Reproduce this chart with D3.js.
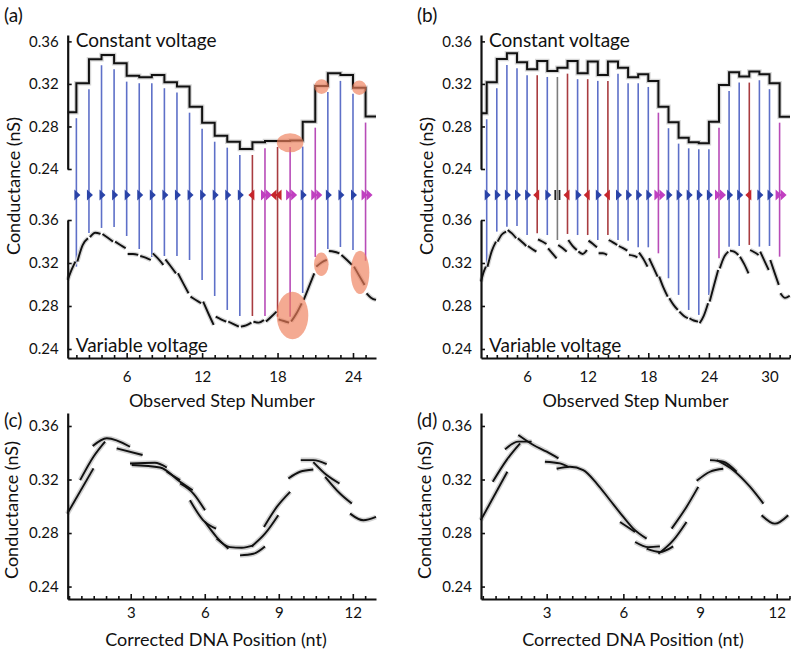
<!DOCTYPE html>
<html><head><meta charset="utf-8">
<script src="https://cdn.jsdelivr.net/npm/d3@7"></script>
<style>
body{margin:0;background:#fff}
svg{display:block}
text{font-family:Lato,"Open Sans",sans-serif;fill:#111}
</style>
</head><body>
<svg id="c" width="800" height="656"></svg>
<script>
// ---------------- DATA ----------------
// Panel (a): constant-voltage step levels (nS), one per observed step level
const levelsA = [0.2934,0.3207,0.3432,0.3473,0.3395,0.3278,0.3263,0.3285,0.3216,0.3175,0.2986,0.2836,0.2713,0.2657,0.2588,0.2651,0.2664,0.2664,0.2667,0.2845,0.3181,0.3301,0.3285,0.3165,0.2893];
// transition types at steps 2..25 (f forward, b back, ff skip, bb double back, p pause)
const typesA = ["f","f","f","f","f","f","f","f","f","f","f","f","f","f","b","ff","bb","ff","f","ff","f","f","f","ff"];
// where each transition line ends in the variable-voltage panel (nS)
const endsA = [0.3166,0.3479,0.3526,0.3535,0.3451,0.333,0.3256,0.3265,0.3265,0.3228,0.3042,0.2893,0.2763,0.2707,0.2707,0.2707,0.27,0.27,0.2921,0.3256,0.333,0.3349,0.3321,0.3221];
// variable-voltage piece per level: start, middle, end conductance (nS)
const pieceStartA = [0.3042,0.3213,0.344,0.347,0.3399,0.3284,0.3265,0.329,0.3234,0.3104,0.2887,0.2841,0.2701,0.2655,0.2608,0.2655,0.2655,0.2676,0.2655,0.2856,0.3166,0.3312,0.3275,0.3166,0.2918];
const pieceMidA   = [0.3135,0.3367,0.3482,0.3435,0.3368,0.3284,0.325,0.324,0.317,0.301,0.2856,0.273,0.2676,0.2632,0.262,0.2645,0.27,0.266,0.273,0.298,0.3205,0.3305,0.323,0.308,0.2875];
const pieceEndA   = [0.3213,0.343,0.347,0.3399,0.3337,0.3275,0.3228,0.3182,0.3104,0.2918,0.2825,0.2624,0.2655,0.2608,0.2645,0.267,0.2748,0.2645,0.2825,0.3104,0.3228,0.329,0.3182,0.2996,0.2856];
// highlighted regions in (a): [step, conductance]
const highlightTopA = [[21.5,0.3175],[24.5,0.3164],[19.0,0.2647]];
const highlightBotA = [[21.48,0.3188],[19.19,0.2712],[24.56,0.3113]];

// Panel (b)
const levelsB = [0.2924,0.3216,0.3435,0.3489,0.3404,0.3338,0.3416,0.3322,0.3353,0.3416,0.3301,0.341,0.3285,0.341,0.3353,0.3263,0.3291,0.3228,0.2986,0.284,0.2695,0.2651,0.2642,0.2845,0.3191,0.331,0.3269,0.3316,0.3291,0.3207,0.2892];
const typesB = ["f","f","f","f","f","b","f","p","b","f","b","f","b","f","f","f","f","ff","f","f","f","f","f","ff","f","f","b","f","f","ff"];
const endsB = [0.3166,0.3492,0.3538,0.3544,0.346,0.3476,0.346,0.3414,0.347,0.346,0.346,0.3414,0.346,0.3414,0.3408,0.3346,0.3346,0.329,0.3058,0.2903,0.2763,0.2717,0.2903,0.3244,0.3352,0.3358,0.3368,0.3352,0.3358,0.3259];
const pieceStartB = [0.3027,0.3166,0.3399,0.3507,0.343,0.3358,0.342,0.3337,0.3368,0.3414,0.3306,0.3408,0.329,0.3414,0.3358,0.3275,0.3296,0.3244,0.3073,0.2872,0.2748,0.2686,0.2639,0.2841,0.315,0.3315,0.3259,0.3321,0.3306,0.3228,0.2918];
const pieceMidB   = [0.311,0.331,0.3465,0.3475,0.3395,0.333,0.34,0.329,0.334,0.336,0.3284,0.3378,0.329,0.3392,0.3338,0.3268,0.324,0.316,0.297,0.281,0.271,0.2665,0.271,0.299,0.3255,0.3305,0.319,0.33,0.322,0.311,0.2875];
const pieceEndB   = [0.3166,0.3399,0.3492,0.343,0.3358,0.3306,0.3377,0.3244,0.3306,0.3321,0.3321,0.3346,0.3275,0.3368,0.3315,0.3253,0.3166,0.3073,0.2887,0.2763,0.2686,0.2655,0.2825,0.3135,0.3306,0.3275,0.3104,0.3275,0.3135,0.2996,0.2895];

// Panel (c): corrected segments, [DNA position (nt), conductance (nS)]
const segmentsC = [
 [[0.43,0.2945],[1.49,0.3283]],
 [[0.95,0.3195],[1.49,0.337],[1.96,0.3483]],
 [[1.46,0.345],[2.03,0.3508],[2.97,0.3445]],
 [[2.43,0.3433],[3.48,0.3383]],
 [[2.97,0.332],[3.98,0.3325],[4.46,0.329]],
 [[3.04,0.3308],[4.19,0.329],[5.0,0.3183],[5.51,0.312]],
 [[4.46,0.3258],[5.0,0.3195]],
 [[5.0,0.317],[5.54,0.3095],[6.01,0.297]],
 [[5.40,0.3045],[5.94,0.2895],[6.46,0.2833]],
 [[6.01,0.2883],[6.48,0.277],[6.96,0.2683]],
 [[6.48,0.2758],[7.02,0.2695],[7.50,0.269],[7.97,0.2708]],
 [[7.43,0.2633],[7.97,0.2645],[8.44,0.27]],
 [[7.90,0.27],[8.44,0.2795],[8.98,0.2933]],
 [[8.40,0.2845],[8.92,0.2995],[9.46,0.3108]],
 [[9.39,0.3208],[9.86,0.3258],[10.40,0.3275]],
 [[9.89,0.3345],[10.40,0.3345],[10.94,0.3315]],
 [[10.40,0.333],[10.94,0.3233],[11.46,0.317]],
 [[10.88,0.322],[11.48,0.3095],[11.96,0.302]],
 [[11.89,0.2945],[12.43,0.2895],[12.94,0.292]]
];
// Panel (d)
const segmentsD = [
 [[0.42,0.2895],[1.46,0.3258]],
 [[0.89,0.3183],[1.43,0.3345],[1.96,0.347]],
 [[1.37,0.3425],[1.89,0.3483],[2.41,0.3483]],
 [[1.89,0.3533],[2.48,0.3458],[3.0,0.3408],[3.46,0.3358]],
 [[2.93,0.3333],[3.52,0.332],[3.85,0.3295]],
 [[3.39,0.328],[3.91,0.3295],[4.43,0.327],[4.96,0.317],[5.48,0.3045],[6.0,0.292],[6.39,0.2833],[6.91,0.2758]],
 [[5.87,0.2883],[6.46,0.2808]],
 [[6.46,0.2733],[6.98,0.2695],[7.43,0.27]],
 [[6.91,0.2683],[7.43,0.2658],[7.95,0.27]],
 [[7.37,0.2645],[7.95,0.2745],[8.47,0.2883]],
 [[7.89,0.2833],[8.47,0.2995],[8.93,0.3145]],
 [[8.87,0.319],[9.39,0.3258],[9.91,0.328]],
 [[9.39,0.3345],[9.91,0.3333],[10.43,0.3258]],
 [[9.65,0.3345],[10.30,0.327],[10.96,0.3145],[11.48,0.302]],
 [[11.41,0.2933],[11.93,0.287],[12.45,0.2933]]
];
const yTicks = [0.24,0.28,0.32,0.36];

// ---------------- DRAWING ----------------
const svg = d3.select("#c");
const arrowCol = {f:"#2b44a8", b:"#c5262c", ff:"#c03fc0", bb:"#c5262c", p:"#222"};
const lineCol  = {f:"#5e70c8", b:"#a83c40", ff:"#b84cb8", bb:"#a83c40", p:"#7d7d7d"};
const FS = 15;

function styleAxis(sel){
  sel.select(".domain").attr("stroke","#111").attr("stroke-width",2.2);
  sel.selectAll(".tick line").attr("stroke","#111").attr("stroke-width",1.6);
  sel.selectAll(".tick text").attr("font-size",FS).attr("font-family","Lato, 'Open Sans', sans-serif").attr("fill","#111");
}

function drawArrow(g, x, y, t){
  const c = arrowCol[t];
  const tri = (x0, dir) => `M${x0},${y-5.5}L${x0+dir*6},${y}L${x0},${y+5.5}Z`;
  let d = "";
  if (t==="f") d = tri(x-2, 1);
  else if (t==="b") d = tri(x+2, -1);
  else if (t==="ff") d = tri(x-4, 1) + tri(x+1, 1);
  else if (t==="bb") d = tri(x+4, -1) + tri(x-1, -1);
  if (t==="p") {
    g.append("rect").attr("x",x-3).attr("y",y-5).attr("width",1.8).attr("height",10).attr("fill",c);
    g.append("rect").attr("x",x+1.2).attr("y",y-5).attr("width",1.8).attr("height",10).attr("fill",c);
  } else {
    g.append("path").attr("d",d).attr("fill",c);
  }
}

function stepPanel(o){
  const x = d3.scaleLinear().domain(o.xDom).range(o.xRange);
  const yT = d3.scaleLinear().domain([0.24,0.366]).range([169,35]);
  const yB = d3.scaleLinear().domain([0.2316,0.36]).range([358,220]);
  const g = svg.append("g");
  const N = o.levels.length;

  // transition lines
  o.types.forEach((t,j)=>{
    const s = j+2;
    const top = yT(Math.min(o.levels[j], o.levels[j+1])) + 6;
    g.append("line").attr("x1",x(s)).attr("x2",x(s))
      .attr("y1",top).attr("y2",yB(o.ends[j]))
      .attr("stroke",lineCol[t]).attr("stroke-width",1.6);
  });

  // staircase
  const pts = o.levels.map((v,i)=>[Math.max(i+1,o.xDom[0]), v]);
  pts.push([o.xDom[1], o.levels[N-1]]);
  const stair = d3.line().x(d=>x(d[0])).y(d=>yT(d[1])).curve(d3.curveStepAfter);
  g.append("path").attr("d",stair(pts)).attr("fill","none").attr("stroke","#d6d6d6").attr("stroke-width",4.5);
  g.append("path").attr("d",stair(pts)).attr("fill","none").attr("stroke","#111").attr("stroke-width",2);

  // variable voltage pieces
  const pl = d3.line().x(d=>x(d[0])).y(d=>yB(d[1])).curve(d3.curveMonotoneX);
  const pieces = o.pStart.map((v,i)=>{
    const k = i+1;
    const a = k===1 ? o.xDom[0] : k+0.08;
    const b = Math.min(k+1, o.xDom[1]) - (k===N ? 0 : 0.08);
    return [[a,v],[(a+b)/2,o.pMid[i]],[b,o.pEnd[i]]];
  });
  g.selectAll(null).data(pieces).enter().append("path").attr("d",pl)
    .attr("fill","none").attr("stroke","#d6d6d6").attr("stroke-width",4.5);
  g.selectAll(null).data(pieces).enter().append("path").attr("d",pl)
    .attr("fill","none").attr("stroke","#111").attr("stroke-width",1.9);

  // arrows
  o.types.forEach((t,j)=> drawArrow(g, x(j+2), 195, t));

  // axes
  const axT = d3.axisLeft(yT).tickValues(yTicks).tickFormat(d3.format(".2f")).tickSize(-4).tickSizeOuter(0).tickPadding(9);
  const axB = d3.axisLeft(yB).tickValues(yTicks).tickFormat(d3.format(".2f")).tickSize(-4).tickSizeOuter(0).tickPadding(9);
  const xt = d3.range(2, Math.floor(o.xDom[1])+1);
  const axX = d3.axisBottom(x).tickValues(xt).tickFormat(d=> d%6===0 ? d : "").tickSize(-3).tickSizeOuter(0).tickPadding(13);
  g.append("g").attr("transform",`translate(${o.xRange[0]},0)`).call(axT).call(styleAxis);
  g.append("g").attr("transform",`translate(${o.xRange[0]},0)`).call(axB).call(styleAxis);
  const gx = g.append("g").attr("transform","translate(0,358)").call(axX).call(styleAxis);
  gx.selectAll(".tick line").attr("y2", d=> d%6===0 ? -5 : -3);

  // highlights
  if (o.hTop) {
    const rT = [[7.3,7.3],[7.2,7.2],[13.3,9.5]];
    const rB = [[7.3,11.7],[15.8,23.8],[9.3,21.7]];
    o.hTop.forEach((h,i)=> g.append("ellipse").attr("cx",x(h[0])).attr("cy",yT(h[1]))
      .attr("rx",rT[i][0]).attr("ry",rT[i][1]).attr("fill","#ee7e5a").attr("fill-opacity",0.66));
    o.hBot.forEach((h,i)=> g.append("ellipse").attr("cx",x(h[0])).attr("cy",yB(h[1]))
      .attr("rx",rB[i][0]).attr("ry",rB[i][1]).attr("fill","#ee7e5a").attr("fill-opacity",0.66));
  }

  // texts
  g.append("text").attr("x",o.xRange[0]+8).attr("y",47).attr("font-size",19).text("Constant voltage");
  g.append("text").attr("x",o.xRange[0]+8).attr("y",352).attr("font-size",19).text("Variable voltage");
  g.append("text").attr("x",(o.xRange[0]+o.xRange[1])/2).attr("y",407).attr("text-anchor","middle").attr("font-size",18).text("Observed Step Number");
  g.append("text").attr("transform",`translate(${o.xRange[0]-48},186) rotate(-90)`).attr("text-anchor","middle").attr("font-size",18).text("Conductance (nS)");
  g.append("text").attr("x",o.labelX).attr("y",22).attr("font-size",19).text(o.label);
}

function posPanel(o){
  const x = d3.scaleLinear().domain(o.xDom).range(o.xRange);
  const y = d3.scaleLinear().domain([0.2307,0.3697]).range([599,413]);
  const g = svg.append("g");
  const ln = d3.line().x(d=>x(d[0])).y(d=>y(d[1])).curve(d3.curveMonotoneX);
  g.selectAll(null).data(o.segs).enter().append("path").attr("d",ln)
    .attr("fill","none").attr("stroke","#d2d2d2").attr("stroke-width",5);
  g.selectAll(null).data(o.segs).enter().append("path").attr("d",ln)
    .attr("fill","none").attr("stroke","#111").attr("stroke-width",1.9);

  const axY = d3.axisLeft(y).tickValues(yTicks).tickFormat(d3.format(".2f")).tickSize(-4).tickSizeOuter(0).tickPadding(9);
  const xt = d3.range(0.5, 13, 0.5).filter(v=> v>o.xDom[0]+0.05 && v<o.xDom[1]);
  const axX = d3.axisBottom(x).tickValues(xt).tickFormat(d=> d%3===0 ? d : "").tickSize(-3).tickSizeOuter(0).tickPadding(8);
  g.append("g").attr("transform",`translate(${o.xRange[0]},0)`).call(axY).call(styleAxis);
  const gx = g.append("g").attr("transform","translate(0,599)").call(axX).call(styleAxis);
  gx.selectAll(".tick line").attr("y2", d=> d%3===0 ? -5 : -3);

  g.append("text").attr("x",o.titleX).attr("y",646).attr("text-anchor","middle").attr("font-size",18).text("Corrected DNA Position (nt)");
  g.append("text").attr("transform",`translate(${o.xRange[0]-50},510) rotate(-90)`).attr("text-anchor","middle").attr("font-size",18).text("Conductance (nS)");
  g.append("text").attr("x",o.labelX).attr("y",427).attr("font-size",19).text(o.label);
}

stepPanel({xDom:[1.31,25.83], xRange:[67.7,376], levels:levelsA, types:typesA, ends:endsA,
  pStart:pieceStartA, pMid:pieceMidA, pEnd:pieceEndA, hTop:highlightTopA, hBot:highlightBotA, label:"(a)", labelX:4});
stepPanel({xDom:[1.436,32.03], xRange:[481,790], levels:levelsB, types:typesB, ends:endsB,
  pStart:pieceStartB, pMid:pieceMidB, pEnd:pieceEndB, label:"(b)", labelX:417});
posPanel({xDom:[0.446,12.94], xRange:[67.7,376], segs:segmentsC, label:"(c)", labelX:4, titleX:216});
posPanel({xDom:[0.43,12.52], xRange:[481,790], segs:segmentsD, label:"(d)", labelX:417, titleX:633});
</script>
</body></html>
